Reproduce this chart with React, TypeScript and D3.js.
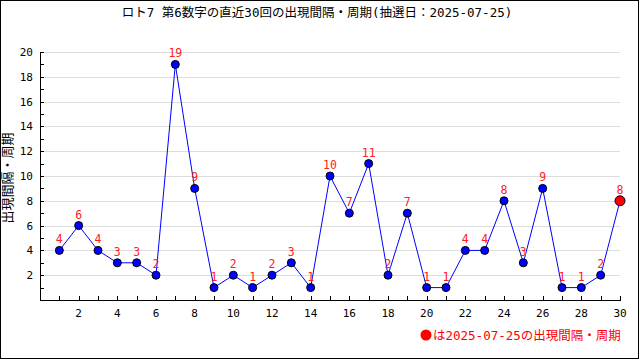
import React from "react";
import * as d3 from "d3";

const rounds = d3.range(1, 31);
const intervals = [4, 6, 4, 3, 3, 2, 19, 9, 1, 2, 1, 2, 3, 1, 10, 7, 11, 2, 7, 1, 1, 4, 4, 8, 3, 9, 1, 1, 2, 8];
const yTickLabels = [2, 4, 6, 8, 10, 12, 14, 16, 18, 20];
const xTickLabels = [2, 4, 6, 8, 10, 12, 14, 16, 18, 20, 22, 24, 26, 28, 30];
const title = "ロト7 第6数字の直近30回の出現間隔・周期(抽選日：2025-07-25)";
const yLabel = "出現間隔・周期";
const legendText = "は2025-07-25の出現間隔・周期";

const W = 640, H = 360;
const left = 40, right = 620, top = 52, bottom = 300;
const FONT = "'DejaVu Sans Mono', 'Noto Sans CJK JP', monospace";

export default function App() {
  const x = d3.scaleLinear().domain([0, 30]).range([left, right]);
  const y = d3.scaleLinear().domain([0, 20]).range([bottom, top]);
  const line = d3.line<number>().x((_, i) => x(rounds[i])).y((d) => y(d));
  const n = intervals.length;
  return (
    <svg width={W} height={H} style={{ position: "absolute", left: 0, top: 0 }} fontFamily={FONT}>
      <rect x={0} y={0} width={W} height={H} fill="#fff" />
      <rect x={0.5} y={0.5} width={W - 2} height={H - 2} fill="none" stroke="#000" />
      <text x={317} y={17} textAnchor="middle" fontSize={12.5} fill="#000">{title}</text>
      {yTickLabels.map((v) => (
        <line key={"g" + v} x1={left} x2={right} y1={Math.round(y(v)) + 0.5} y2={Math.round(y(v)) + 0.5} stroke="#dddddd" />
      ))}
      {d3.range(1, 21).map((v) => (
        <line key={"yt" + v} x1={left} x2={left + 4} y1={Math.round(y(v)) + 0.5} y2={Math.round(y(v)) + 0.5} stroke="#000" />
      ))}
      {rounds.map((v) => (
        <line key={"xt" + v} x1={Math.round(x(v)) + 0.5} x2={Math.round(x(v)) + 0.5} y1={bottom} y2={bottom - 4} stroke="#000" />
      ))}
      <line x1={left + 0.5} x2={left + 0.5} y1={top} y2={bottom + 0.5} stroke="#000" />
      <line x1={left} x2={right + 1} y1={bottom + 0.5} y2={bottom + 0.5} stroke="#000" />
      {yTickLabels.map((v) => (
        <text key={"yl" + v} x={33} y={y(v) + 4} textAnchor="end" fontSize={11} fill="#000">{v}</text>
      ))}
      {xTickLabels.map((v) => (
        <text key={"xl" + v} x={x(v)} y={317} textAnchor="middle" fontSize={11} fill="#000">{v}</text>
      ))}
      <text transform={`translate(12,${178}) rotate(-90)`} textAnchor="middle" fontSize={13} fill="#000">{yLabel}</text>
      <path d={line(intervals) || ""} fill="none" stroke="#0000ff" strokeWidth={1} />
      {intervals.map((v, i) => (
        <circle key={"c" + i} cx={x(rounds[i])} cy={y(v)} r={i === n - 1 ? 5 : 4} fill={i === n - 1 ? "#ff0000" : "#0000ff"} stroke="#000" strokeWidth={1} />
      ))}
      {intervals.map((v, i) => (
        <text key={"t" + i} x={x(rounds[i])} y={y(v) - 7} textAnchor="middle" fontSize={11.5} fill="#ff2020">{v}</text>
      ))}
      <circle cx={426} cy={335} r={5.5} fill="#ff0000" />
      <text x={433} y={339.5} fontSize={12.5} fill="#ff0000">{legendText}</text>
    </svg>
  );
}
